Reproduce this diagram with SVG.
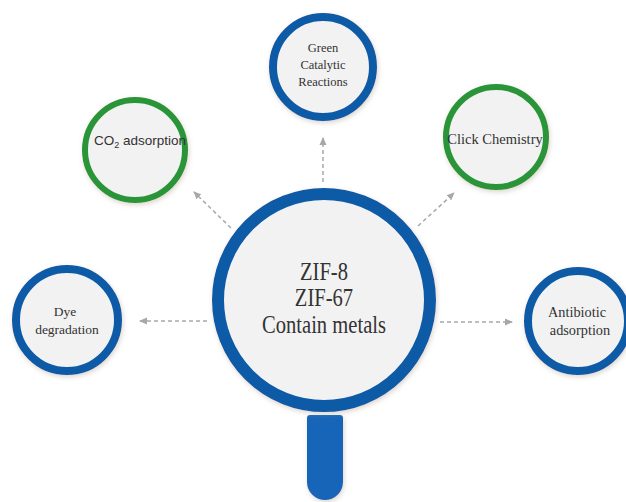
<svg xmlns="http://www.w3.org/2000/svg" width="626" height="502" viewBox="0 0 626 502">
<defs>
<style>
.fill{fill:#f2f2f2;}
.blue{fill:#f2f2f2;stroke:#0b5aa6;}
.green{fill:#f2f2f2;stroke:#2b9438;}
.serif{font-family:"Liberation Serif","Times New Roman",serif;fill:#333;text-anchor:middle;}
.sans{font-family:"Liberation Sans",Arial,sans-serif;fill:#333;text-anchor:middle;}
.conn{stroke:#a8a8a8;stroke-width:1.5;stroke-dasharray:4 3;fill:none;marker-end:url(#ah);}
</style>
<filter id="sh" x="-30%" y="-30%" width="160%" height="160%">
<feDropShadow dx="1" dy="2" stdDeviation="2.5" flood-color="#b0a090" flood-opacity="0.45"/>
</filter>
<marker id="ah" viewBox="0 0 8 8" refX="7" refY="4" markerWidth="8" markerHeight="8" markerUnits="userSpaceOnUse" orient="auto">
<path d="M0,0.5 L8,4 L0,7.5 Z" fill="#a8a8a8"/>
</marker>
</defs>
<rect width="626" height="502" fill="#ffffff"/>
<g id="connectors">
<line class="conn" x1="323" y1="182" x2="323" y2="138"/>
<line class="conn" x1="231" y1="228" x2="194" y2="192"/>
<line class="conn" x1="418" y1="226" x2="454" y2="193"/>
<line class="conn" x1="207" y1="321" x2="140" y2="321"/>
<line class="conn" x1="440" y1="322" x2="512" y2="322"/>
</g>
<g id="center">
<path d="M307,418 Q307,415 310,415 H340 Q343,415 343,418 V482 A18,18 0 0 1 307,482 Z" fill="#1565b9" filter="url(#sh)"/>
<circle class="blue" cx="324" cy="300" r="106" stroke-width="12" filter="url(#sh)"/>
<g class="serif" font-size="24.5" transform="translate(324,0) scale(0.84,1)">
<text x="0" y="280">ZIF-8</text>
<text x="0" y="306">ZIF-67</text>
<text x="0" y="333">Contain metals</text>
</g>
</g>
<g id="green-catalytic">
<circle class="blue" cx="323" cy="67" r="50" stroke-width="8" filter="url(#sh)"/>
<g class="serif" font-size="12.5">
<text x="323" y="52">Green</text>
<text x="323" y="69">Catalytic</text>
<text x="323" y="86">Reactions</text>
</g>
</g>
<g id="co2">
<circle class="green" cx="135" cy="150" r="50" stroke-width="6" filter="url(#sh)"/>
<text class="sans" x="140" y="145" font-size="13.5">CO<tspan font-size="9" dy="3">2</tspan><tspan dy="-3"> adsorption</tspan></text>
</g>
<g id="click">
<circle class="green" cx="496" cy="137" r="50" stroke-width="6" filter="url(#sh)"/>
<text class="serif" x="495" y="144" font-size="14.5">Click Chemistry</text>
</g>
<g id="dye">
<circle class="blue" cx="67" cy="320" r="51" stroke-width="8" filter="url(#sh)"/>
<g class="serif" font-size="13.5">
<text x="65" y="316">Dye</text>
<text x="67" y="334">degradation</text>
</g>
</g>
<g id="antibiotic">
<circle class="blue" cx="578" cy="321" r="50" stroke-width="8" filter="url(#sh)"/>
<g class="serif" font-size="14.3">
<text x="577" y="317">Antibiotic</text>
<text x="580" y="335">adsorption</text>
</g>
</g>
</svg>
